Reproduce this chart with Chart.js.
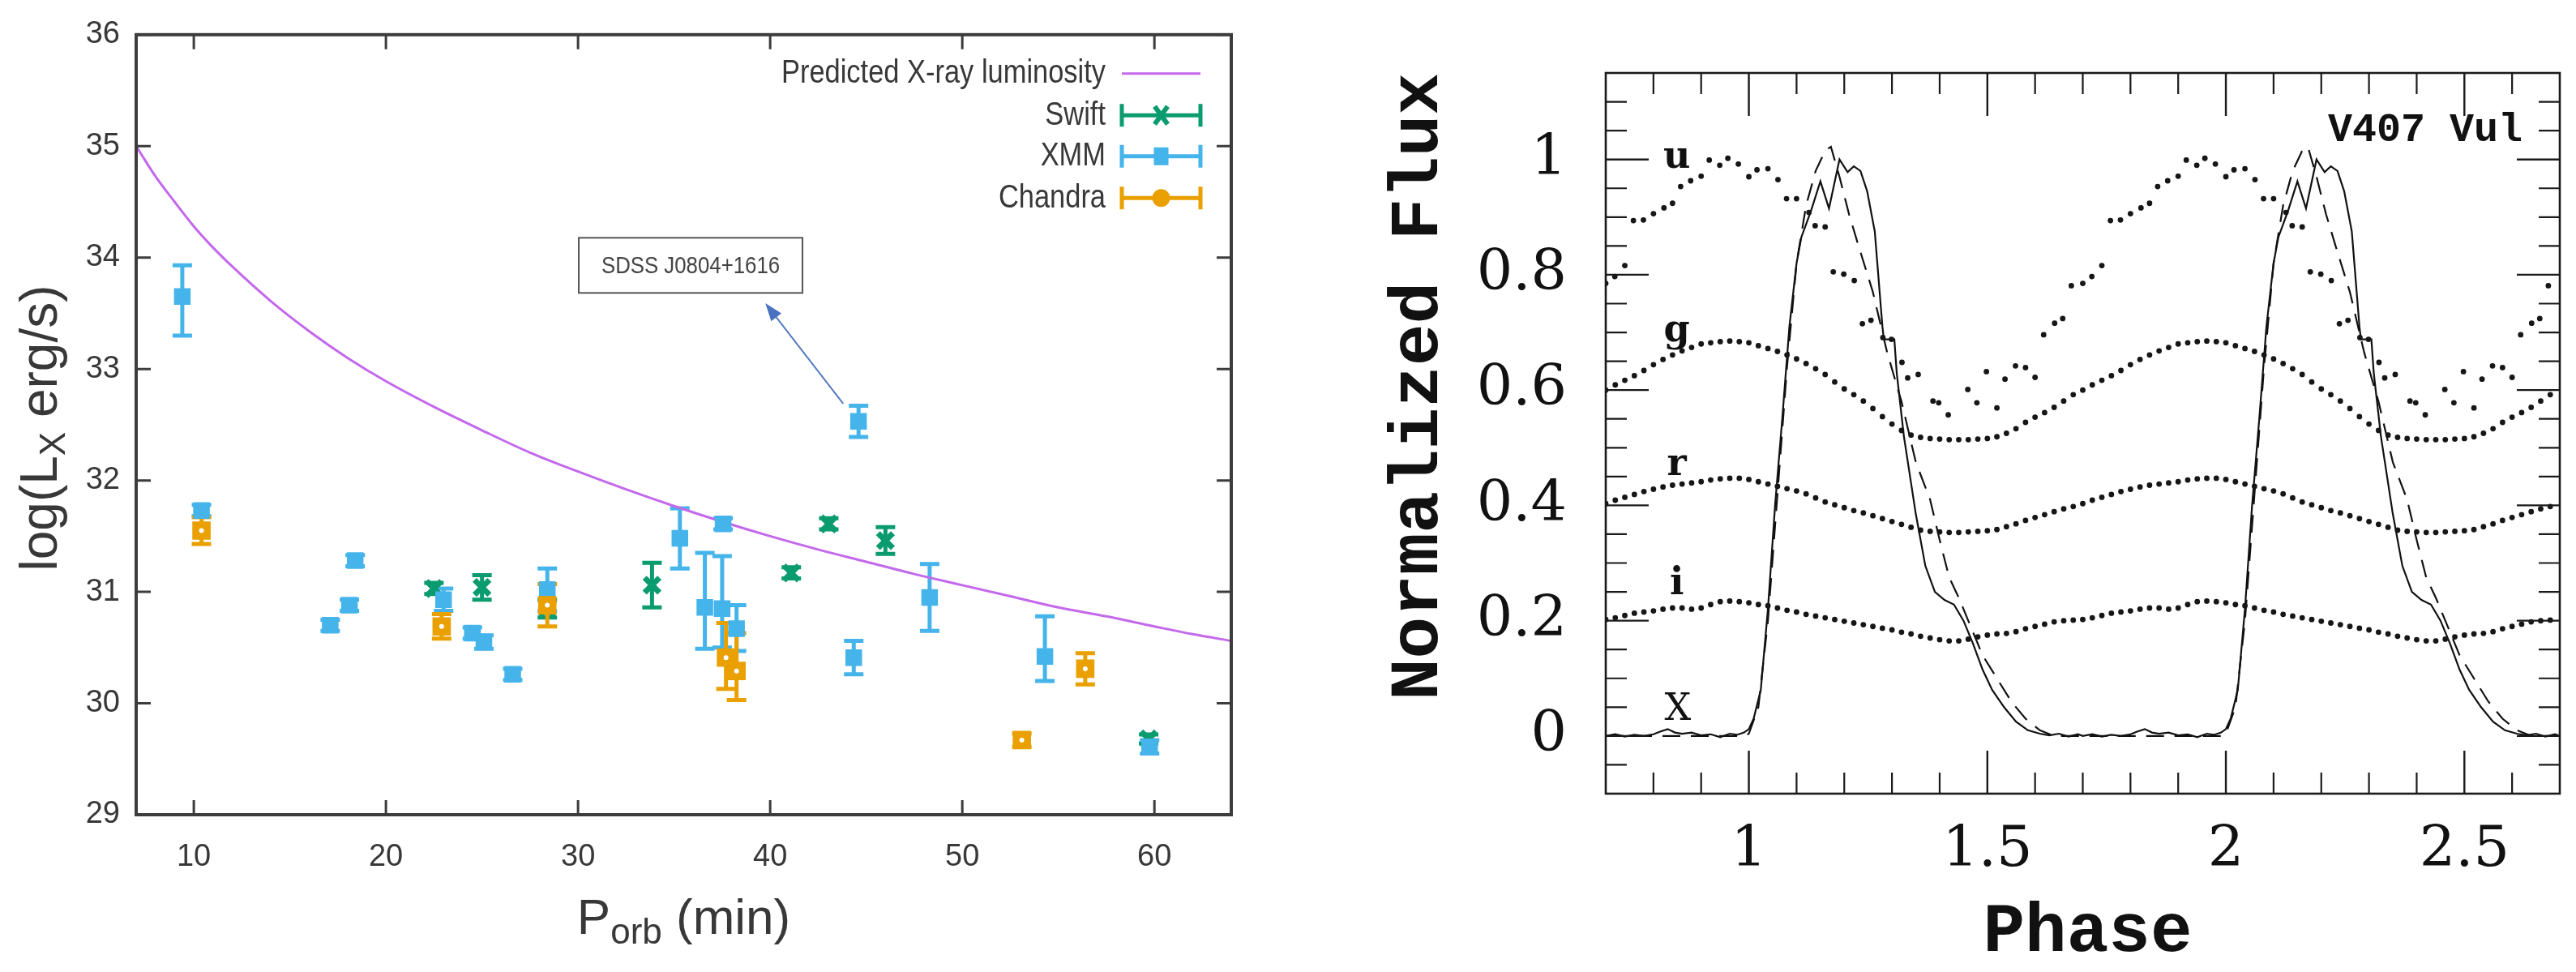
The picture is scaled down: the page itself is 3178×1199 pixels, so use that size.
<!DOCTYPE html>
<html><head><meta charset="utf-8">
<script src="https://cdn.jsdelivr.net/npm/chart.js@4.4.1/dist/chart.umd.min.js"></script>
<style>html,body{margin:0;padding:0;background:#fff;overflow:hidden;} canvas{position:absolute;top:0;}</style>
</head><body>
<canvas id="left" width="1600" height="1199" style="left:0"></canvas>
<canvas id="right" width="1578" height="1199" style="left:1600px"></canvas>
<script>
// ---------------- LEFT PANEL DATA ----------------
const PORB_TICKS = [10, 20, 30, 40, 50, 60];
const LOGL_TICKS = [29, 30, 31, 32, 33, 34, 35, 36];

const PRED_P = [7, 8, 9, 10, 11, 12, 14, 16, 18, 20, 22.5, 25, 27.5, 30, 32.5, 35, 37.5, 40, 42.5, 45, 47.5, 50, 52.5, 55, 57.5, 60, 62, 64];
const PRED_L = [35.00, 34.73, 34.50, 34.28, 34.09, 33.92, 33.61, 33.34, 33.10, 32.89, 32.66, 32.45, 32.25, 32.08, 31.92, 31.77, 31.63, 31.50, 31.38, 31.27, 31.16, 31.06, 30.96, 30.86, 30.78, 30.69, 30.62, 30.56];

const SWIFT_P  = [22.5, 25.0, 28.4, 33.85, 41.1, 43.05, 46.0, 59.7];
const SWIFT_L  = [31.03, 31.04, 30.85, 31.06, 31.17, 31.61, 31.46, 29.68];
const SWIFT_UP = [0.05, 0.11, 0.08, 0.20, 0.05, 0.05, 0.12, 0.04];
const SWIFT_DN = [0.05, 0.11, 0.08, 0.20, 0.05, 0.05, 0.12, 0.04];

const XMM_P  = [9.4, 10.4, 17.1, 18.1, 18.4, 23.0, 24.5, 25.1, 26.6, 28.4, 35.3, 36.6, 37.55, 37.5, 38.25, 44.35, 44.6, 48.3, 54.3, 59.75];
const XMM_L  = [33.65, 31.73, 30.70, 30.88, 31.28, 30.93, 30.63, 30.55, 30.26, 31.02, 31.48, 30.86, 31.61, 30.85, 30.67, 30.41, 32.53, 30.95, 30.42, 29.61];
const XMM_UP = [0.28, 0.05, 0.05, 0.05, 0.05, 0.10, 0.05, 0.06, 0.05, 0.19, 0.27, 0.49, 0.05, 0.47, 0.21, 0.15, 0.14, 0.30, 0.36, 0.06];
const XMM_DN = [0.35, 0.05, 0.05, 0.05, 0.05, 0.10, 0.05, 0.06, 0.05, 0.19, 0.27, 0.37, 0.05, 0.35, 0.20, 0.15, 0.14, 0.30, 0.22, 0.06];

const CHANDRA_P  = [10.4, 22.9, 28.4, 37.7, 38.25, 53.1, 56.4];
const CHANDRA_L  = [31.55, 30.69, 30.88, 30.41, 30.29, 29.67, 30.31];
const CHANDRA_UP = [0.12, 0.11, 0.19, 0.31, 0.34, 0.06, 0.14];
const CHANDRA_DN = [0.12, 0.11, 0.19, 0.28, 0.26, 0.06, 0.14];

const LEGEND_LABELS = ['Predicted X-ray luminosity', 'Swift', 'XMM', 'Chandra'];
const NOTE_TEXT = 'SDSS J0804+1616';
const NOTE_AT = [35.86, 33.93];        // box centre (Porb, logL)
const ARROW_FROM = [43.8, 32.69];
const ARROW_TO = [39.75, 33.59];

// ---------------- RIGHT PANEL DATA ----------------
const PHASE_TICKS = [1, 1.5, 2, 2.5];
const PHASE_MINOR = [0.8, 0.9, 1.1, 1.2, 1.3, 1.4, 1.6, 1.7, 1.8, 1.9, 2.1, 2.2, 2.3, 2.4, 2.6];
const FLUX_TICKS = [0, 0.2, 0.4, 0.6, 0.8, 1];
const FLUX_MINOR = [-0.05, 0.05, 0.1, 0.15, 0.25, 0.3, 0.35, 0.45, 0.5, 0.55, 0.65, 0.7, 0.75, 0.85, 0.9, 0.95, 1.05, 1.1];
const CYCLE_SHIFT = [0, 1];   // phase-folded light curves are plotted twice

const U_PHASE = [0.700,0.719,0.740,0.758,0.779,0.800,0.822,0.840,0.857,0.878,0.900,0.917,0.939,0.956,0.978,1.000,1.017,1.040,1.061,1.079,1.100,1.126,1.139,1.160,1.177,1.199,1.221,1.238,1.256,1.281,1.299,1.321,1.333,1.355,1.386,1.398,1.418,1.459,1.478,1.498,1.520,1.537,1.559,1.580,1.600,1.618,1.641,1.658,1.676];
const U_FLUX  = [0.785,0.797,0.816,0.894,0.895,0.906,0.916,0.924,0.953,0.963,0.971,0.999,0.990,1.002,0.992,0.970,0.982,0.984,0.965,0.932,0.932,0.908,0.885,0.883,0.805,0.801,0.790,0.715,0.721,0.691,0.688,0.648,0.621,0.627,0.581,0.578,0.557,0.601,0.578,0.632,0.569,0.619,0.642,0.639,0.622,0.696,0.716,0.724,0.781];

const GRI_PHASE = [0.70,0.72,0.74,0.76,0.78,0.80,0.82,0.84,0.86,0.88,0.90,0.92,0.94,0.96,0.98,1.00,1.02,1.04,1.06,1.08,1.10,1.12,1.14,1.16,1.18,1.20,1.22,1.24,1.26,1.28,1.30,1.32,1.34,1.36,1.38,1.40,1.42,1.44,1.46,1.48,1.50,1.52,1.54,1.56,1.58,1.60,1.62,1.64,1.66,1.68];
const G_FLUX = [.600,.609,.617,.625,.634,.644,.653,.661,.668,.674,.680,.682,.684,.685,.684,.682,.677,.672,.667,.661,.654,.646,.637,.627,.614,.602,.592,.581,.568,.554,.541,.530,.522,.518,.516,.515,.514,.514,.514,.515,.516,.519,.525,.533,.544,.553,.561,.570,.581,.592];
const R_FLUX = [.403,.409,.414,.419,.424,.428,.432,.435,.437,.439,.441,.444,.446,.447,.447,.445,.441,.437,.433,.429,.425,.420,.413,.406,.401,.396,.391,.387,.382,.377,.372,.367,.362,.357,.355,.354,.353,.353,.354,.355,.356,.358,.363,.368,.374,.379,.384,.389,.394,.398];
const I_FLUX = [.202,.205,.209,.213,.215,.217,.220,.222,.222,.220,.222,.228,.233,.234,.233,.231,.228,.226,.222,.218,.215,.211,.208,.205,.202,.199,.196,.193,.190,.187,.184,.180,.177,.173,.170,.167,.165,.165,.168,.172,.175,.177,.178,.181,.186,.190,.194,.198,.200,.201];

const XS_PHASE = [0.70,0.72,0.74,0.76,0.78,0.80,0.815,0.83,0.845,0.86,0.88,0.90,0.92,0.94,0.96,0.975,0.99,1.00,1.01,1.025,1.04,1.055,1.07,1.085,1.10,1.11,1.13,1.15,1.168,1.19,1.207,1.22,1.234,1.248,1.264,1.28,1.283,1.305,1.31,1.325,1.35,1.37,1.39,1.41,1.43,1.45,1.47,1.49,1.51,1.535,1.56,1.585,1.61,1.63,1.65,1.67,1.69,1.70];
const XS_FLUX  = [0.000,0.003,-0.001,0.002,0.000,0.003,0.008,0.012,0.006,0.004,0.006,0.001,0.003,-0.002,0.004,0.002,0.006,0.012,0.030,0.080,0.22,0.40,0.55,0.71,0.82,0.865,0.91,0.962,0.915,1.000,0.978,0.988,0.980,0.945,0.875,0.71,0.688,0.688,0.63,0.52,0.385,0.295,0.250,0.236,0.228,0.200,0.160,0.115,0.080,0.050,0.025,0.010,0.004,0.001,0.004,-0.001,0.003,0.000];

const XD_PHASE = [0.70,0.99,1.00,1.02,1.04,1.06,1.08,1.10,1.12,1.14,1.16,1.172,1.19,1.21,1.23,1.26,1.29,1.32,1.35,1.38,1.40,1.42,1.44,1.46,1.49,1.52,1.55,1.58,1.61,1.64,1.70];
const XD_FLUX  = [0.000,0.000,0.004,0.05,0.20,0.42,0.64,0.82,0.92,0.98,1.015,1.022,0.97,0.905,0.85,0.77,0.665,0.58,0.475,0.41,0.34,0.275,0.24,0.20,0.14,0.10,0.06,0.03,0.01,0.0,0.0];

const BAND_LABELS = ['u', 'g', 'r', 'i', 'X'];
const BAND_LABEL_PHASE = [0.849, 0.849, 0.849, 0.849, 0.851];
const BAND_LABEL_FLUX = [1.002, 0.701, 0.470, 0.262, 0.045];
const OBJECT_NAME = 'V407 Vul';
const OBJECT_AT = [2.622, 1.049];

// ---------------- STYLES ----------------
const BLUE = '#45b4ea', GREEN = '#0a9b6e', ORANGE = '#e9a000', PRED_COLOR = '#c468ec';
const NARROW = "'Liberation Sans Narrow','Liberation Sans',Arial,sans-serif";
const SANS = "'Liberation Sans',Arial,sans-serif";
const SERIF = "'DejaVu Serif',serif";
const MONO = "'Liberation Mono','DejaVu Sans Mono',monospace";
const LTEXT = '#383838';

function pts(xs, ys) { return xs.map((x, i) => ({ x: x, y: ys[i] })); }
function fold(ph, fl) {
  const out = [];
  CYCLE_SHIFT.forEach(c => ph.forEach((p, i) => out.push({ x: +(p + c).toFixed(4), y: fl[i] })));
  return out;
}
// draw text squeezed horizontally (the original uses a condensed face)
function narrowText(ctx, txt, x, y, align, squeeze) {
  ctx.save();
  ctx.translate(x, y); ctx.scale(squeeze, 1);
  ctx.textAlign = align; ctx.fillText(txt, 0, 0);
  ctx.restore();
}

function frameAndTicks(chart, o) {
  const { ctx, chartArea: a, scales: { x, y } } = chart;
  ctx.save();
  ctx.strokeStyle = o.color;
  ctx.lineCap = 'butt';
  const sets = [[o.xMajor, o.majLen, o.majW, true], [o.xMinor || [], o.minLen, o.minW, true], [o.yMajor, o.majLen, o.majW, false], [o.yMinor || [], o.minLen, o.minW, false]];
  sets.forEach(([vals, len, w, isX]) => {
    ctx.lineWidth = w;
    ctx.beginPath();
    vals.forEach(v => {
      if (isX) {
        const px = x.getPixelForValue(v);
        ctx.moveTo(px, a.bottom); ctx.lineTo(px, a.bottom - len);
        ctx.moveTo(px, a.top); ctx.lineTo(px, a.top + len);
      } else {
        const py = y.getPixelForValue(v);
        ctx.moveTo(a.left, py); ctx.lineTo(a.left + len, py);
        ctx.moveTo(a.right, py); ctx.lineTo(a.right - len, py);
      }
    });
    ctx.stroke();
  });
  ctx.lineWidth = o.frameW;
  ctx.strokeRect(a.left, a.top, a.right - a.left, a.bottom - a.top);
  ctx.restore();
}

// ---------------- LEFT PANEL PLUGINS ----------------
const errorBars = {
  id: 'errorBars',
  beforeDatasetsDraw(chart) {
    const { ctx, chartArea: a, scales: { x, y } } = chart;
    ctx.save();
    ctx.beginPath(); ctx.rect(a.left, a.top, a.right - a.left, a.bottom - a.top); ctx.clip();
    const ds = chart.data.datasets;
    for (let k = ds.length - 1; k >= 0; k--) {
      const d = ds[k];
      if (!d.errUp) continue;
      ctx.strokeStyle = d.errColor; ctx.lineWidth = 5;
      d.data.forEach((p, i) => {
        const px = x.getPixelForValue(p.x);
        const t = y.getPixelForValue(p.y + d.errUp[i]);
        const b = y.getPixelForValue(p.y - d.errDn[i]);
        ctx.beginPath();
        ctx.moveTo(px, t); ctx.lineTo(px, b);
        ctx.moveTo(px - 12, t); ctx.lineTo(px + 12, t);
        ctx.moveTo(px - 12, b); ctx.lineTo(px + 12, b);
        ctx.stroke();
      });
    }
    ctx.restore();
  },
  afterDatasetsDraw(chart) {
    const { ctx } = chart;
    const meta = chart.getDatasetMeta(0);
    ctx.save(); ctx.fillStyle = '#fff';
    meta.data.forEach(el => { ctx.beginPath(); ctx.arc(el.x, el.y, 3, 0, Math.PI * 2); ctx.fill(); });
    ctx.restore();
  }
};

const leftDecor = {
  id: 'leftDecor',
  afterDraw(chart) {
    const { ctx, chartArea: a, scales: { x, y } } = chart;
    frameAndTicks(chart, { color: '#3c3c3c', xMajor: PORB_TICKS, yMajor: LOGL_TICKS, majLen: 18, majW: 3, frameW: 4 });
    ctx.save();
    // legend
    const rowY = [a.top + 48, a.top + 99.5, a.top + 150, a.top + 201.5];
    const colors = [PRED_COLOR, GREEN, BLUE, ORANGE];
    const sx0 = a.right - 135, sx1 = a.right - 38, sxm = (sx0 + sx1) / 2;
    ctx.font = '41px ' + NARROW; ctx.textBaseline = 'middle';
    LEGEND_LABELS.forEach((lab, i) => {
      const yy = rowY[i];
      ctx.fillStyle = LTEXT;
      narrowText(ctx, lab, a.right - 155, yy, 'right', 0.84);
      ctx.strokeStyle = colors[i]; ctx.fillStyle = colors[i];
      if (i === 0) {
        ctx.lineWidth = 3; ctx.beginPath(); ctx.moveTo(sx0, yy); ctx.lineTo(sx1, yy); ctx.stroke();
      } else {
        ctx.lineWidth = 5; ctx.beginPath();
        ctx.moveTo(sx0, yy); ctx.lineTo(sx1, yy);
        ctx.moveTo(sx0, yy - 14); ctx.lineTo(sx0, yy + 14);
        ctx.moveTo(sx1, yy - 14); ctx.lineTo(sx1, yy + 14);
        ctx.stroke();
        if (i === 1) {
          ctx.lineWidth = 6; ctx.beginPath();
          ctx.moveTo(sxm - 8, yy - 11); ctx.lineTo(sxm + 8, yy + 11);
          ctx.moveTo(sxm - 8, yy + 11); ctx.lineTo(sxm + 8, yy - 11); ctx.stroke();
        } else if (i === 2) {
          ctx.fillRect(sxm - 9, yy - 11, 18, 22);
        } else {
          ctx.beginPath(); ctx.arc(sxm, yy, 11, 0, Math.PI * 2); ctx.fill();
        }
      }
    });
    // annotation box
    const bx = x.getPixelForValue(NOTE_AT[0]), by = y.getPixelForValue(NOTE_AT[1]);
    ctx.strokeStyle = '#555'; ctx.lineWidth = 2;
    ctx.strokeRect(bx - 138, by - 34, 276, 68);
    ctx.fillStyle = '#444'; ctx.font = '30px ' + NARROW; ctx.textBaseline = 'middle';
    narrowText(ctx, NOTE_TEXT, bx, by + 1, 'center', 0.86);
    // arrow
    const ax0 = x.getPixelForValue(ARROW_FROM[0]), ay0 = y.getPixelForValue(ARROW_FROM[1]);
    const ax1 = x.getPixelForValue(ARROW_TO[0]), ay1 = y.getPixelForValue(ARROW_TO[1]);
    const ang = Math.atan2(ay1 - ay0, ax1 - ax0);
    ctx.strokeStyle = '#5479c0'; ctx.fillStyle = '#4a72bf'; ctx.lineWidth = 2;
    ctx.beginPath(); ctx.moveTo(ax0, ay0); ctx.lineTo(ax1 - 16 * Math.cos(ang), ay1 - 16 * Math.sin(ang)); ctx.stroke();
    ctx.beginPath(); ctx.moveTo(ax1, ay1);
    ctx.lineTo(ax1 - 22 * Math.cos(ang) + 8 * Math.sin(ang), ay1 - 22 * Math.sin(ang) - 8 * Math.cos(ang));
    ctx.lineTo(ax1 - 22 * Math.cos(ang) - 8 * Math.sin(ang), ay1 - 22 * Math.sin(ang) + 8 * Math.cos(ang));
    ctx.closePath(); ctx.fill();
    // axis titles
    ctx.fillStyle = LTEXT; ctx.textBaseline = 'alphabetic'; ctx.textAlign = 'left';
    const f1 = '62px ' + SANS, f2 = '44px ' + SANS;
    ctx.font = f1; const wP = ctx.measureText('P').width, wM = ctx.measureText(' (min)').width;
    ctx.font = f2; const wO = ctx.measureText('orb').width;
    let tx = (a.left + a.right) / 2 - (wP + wO + wM) / 2; const ty = 1152;
    ctx.font = f1; ctx.fillText('P', tx, ty);
    ctx.font = f2; ctx.fillText('orb', tx + wP, ty + 12);
    ctx.font = f1; ctx.fillText(' (min)', tx + wP + wO, ty);
    ctx.save();
    ctx.translate(70, 528); ctx.rotate(-Math.PI / 2);
    const g1 = '64px ' + SANS, g2 = '44px ' + SANS;
    ctx.font = g1; const w1 = ctx.measureText('log(L').width, w3 = ctx.measureText(' erg/s)').width;
    ctx.font = g2; const w2 = ctx.measureText('X').width;
    let sx = -(w1 + w2 + w3) / 2;
    ctx.font = g1; ctx.fillText('log(L', sx, 0);
    ctx.font = g2; ctx.fillText('X', sx + w1, 10);
    ctx.font = g1; ctx.fillText(' erg/s)', sx + w1 + w2, 0);
    ctx.restore();
    ctx.restore();
  }
};

new Chart(document.getElementById('left'), {
  type: 'scatter',
  data: {
    datasets: [
      { label: 'Chandra', data: pts(CHANDRA_P, CHANDRA_L), errUp: CHANDRA_UP, errDn: CHANDRA_DN, errColor: ORANGE,
        pointStyle: 'rect', pointRadius: 16, backgroundColor: ORANGE, borderColor: ORANGE, borderWidth: 0 },
      { label: 'XMM', data: pts(XMM_P, XMM_L), errUp: XMM_UP, errDn: XMM_DN, errColor: BLUE,
        pointStyle: 'rect', pointRadius: 14.5, backgroundColor: BLUE, borderColor: BLUE, borderWidth: 0 },
      { label: 'Swift', data: pts(SWIFT_P, SWIFT_L), errUp: SWIFT_UP, errDn: SWIFT_DN, errColor: GREEN,
        pointStyle: 'crossRot', pointRadius: 13, backgroundColor: GREEN, borderColor: GREEN, borderWidth: 7 },
      { label: 'Predicted X-ray luminosity', data: pts(PRED_P, PRED_L), showLine: true, pointRadius: 0,
        borderColor: PRED_COLOR, borderWidth: 3, fill: false, cubicInterpolationMode: 'monotone' }
    ]
  },
  options: {
    responsive: false, animation: false, devicePixelRatio: 1,
    layout: { padding: { left: 0, top: 28, right: 81, bottom: 0 } },
    plugins: { legend: { display: false }, tooltip: { enabled: false } },
    scales: {
      x: {
        type: 'linear', min: 7, max: 64,
        afterBuildTicks: s => { s.ticks = PORB_TICKS.map(v => ({ value: v })); },
        afterFit: s => { s.height = 194; },
        grid: { display: false, drawTicks: false }, border: { display: false },
        ticks: { font: { family: NARROW, size: 38 }, color: LTEXT, padding: 30, maxRotation: 0, autoSkip: false }
      },
      y: {
        type: 'linear', min: 29, max: 36,
        afterBuildTicks: s => { s.ticks = LOGL_TICKS.map(v => ({ value: v })); },
        afterFit: s => { s.width = 168; },
        grid: { display: false, drawTicks: false }, border: { display: false },
        ticks: { font: { family: NARROW, size: 38 }, color: LTEXT, padding: 20, autoSkip: false }
      }
    }
  },
  plugins: [errorBars, leftDecor]
});

// ---------------- RIGHT PANEL ----------------
const rightDecor = {
  id: 'rightDecor',
  afterDraw(chart) {
    const { ctx, chartArea: a, scales: { x, y } } = chart;
    frameAndTicks(chart, { color: '#1a1a1a', xMajor: PHASE_TICKS, xMinor: PHASE_MINOR, yMajor: FLUX_TICKS, yMinor: FLUX_MINOR,
      majLen: 53, majW: 2.4, minLen: 26, minW: 2.2, frameW: 2.6 });
    ctx.save();
    ctx.fillStyle = '#111'; ctx.textAlign = 'center'; ctx.textBaseline = 'middle';
    BAND_LABELS.forEach((lab, i) => {
      ctx.font = (lab === 'X' ? '' : 'bold ') + '46px ' + SERIF;
      ctx.fillText(lab, x.getPixelForValue(BAND_LABEL_PHASE[i]), y.getPixelForValue(BAND_LABEL_FLUX[i]));
    });
    ctx.font = 'bold 50px ' + MONO; ctx.textAlign = 'right';
    ctx.fillText(OBJECT_NAME, x.getPixelForValue(OBJECT_AT[0]), y.getPixelForValue(OBJECT_AT[1]));
    ctx.font = 'bold 86px ' + MONO; ctx.textAlign = 'center'; ctx.textBaseline = 'alphabetic';
    ctx.fillText('Phase', (a.left + a.right) / 2 + 6, 1173);
    ctx.translate(173, 477); ctx.rotate(-Math.PI / 2);
    ctx.fillText('Normalized Flux', 0, 0);
    ctx.restore();
  }
};

const dotStyle = { showLine: false, pointRadius: 3.4, pointBackgroundColor: '#161616', pointBorderWidth: 0, borderColor: '#161616' };
new Chart(document.getElementById('right'), {
  type: 'scatter',
  data: {
    datasets: [
      Object.assign({ label: 'u', data: fold(U_PHASE, U_FLUX) }, dotStyle),
      Object.assign({ label: 'g', data: fold(GRI_PHASE, G_FLUX) }, dotStyle),
      Object.assign({ label: 'r', data: fold(GRI_PHASE, R_FLUX) }, dotStyle),
      Object.assign({ label: 'i', data: fold(GRI_PHASE, I_FLUX) }, dotStyle),
      { label: 'X', data: fold(XS_PHASE, XS_FLUX), showLine: true, pointRadius: 0, borderColor: '#111', borderWidth: 2.2, fill: false },
      { label: 'X model', data: fold(XD_PHASE, XD_FLUX), showLine: true, pointRadius: 0, borderColor: '#111', borderWidth: 2.2, borderDash: [22, 13], fill: false }
    ]
  },
  options: {
    responsive: false, animation: false, devicePixelRatio: 1,
    layout: { padding: { left: 0, top: 24, right: 20, bottom: 0 } },
    plugins: { legend: { display: false }, tooltip: { enabled: false } },
    scales: {
      x: {
        type: 'linear', min: 0.7, max: 2.7,
        afterBuildTicks: s => { s.ticks = PHASE_TICKS.map(v => ({ value: v })); },
        afterFit: s => { s.height = 220; },
        grid: { display: false, drawTicks: false }, border: { display: false },
        ticks: { font: { family: SERIF, size: 70 }, color: '#111', padding: 29, maxRotation: 0, autoSkip: false, callback: v => String(v) }
      },
      y: {
        type: 'linear', min: -0.1, max: 1.15,
        afterBuildTicks: s => { s.ticks = FLUX_TICKS.map(v => ({ value: v })); },
        afterFit: s => { s.width = 381; },
        grid: { display: false, drawTicks: false }, border: { display: false },
        ticks: { font: { family: SERIF, size: 70 }, color: '#111', padding: 48, autoSkip: false, callback: v => String(v) }
      }
    }
  },
  plugins: [rightDecor]
});
</script>
</body></html>
